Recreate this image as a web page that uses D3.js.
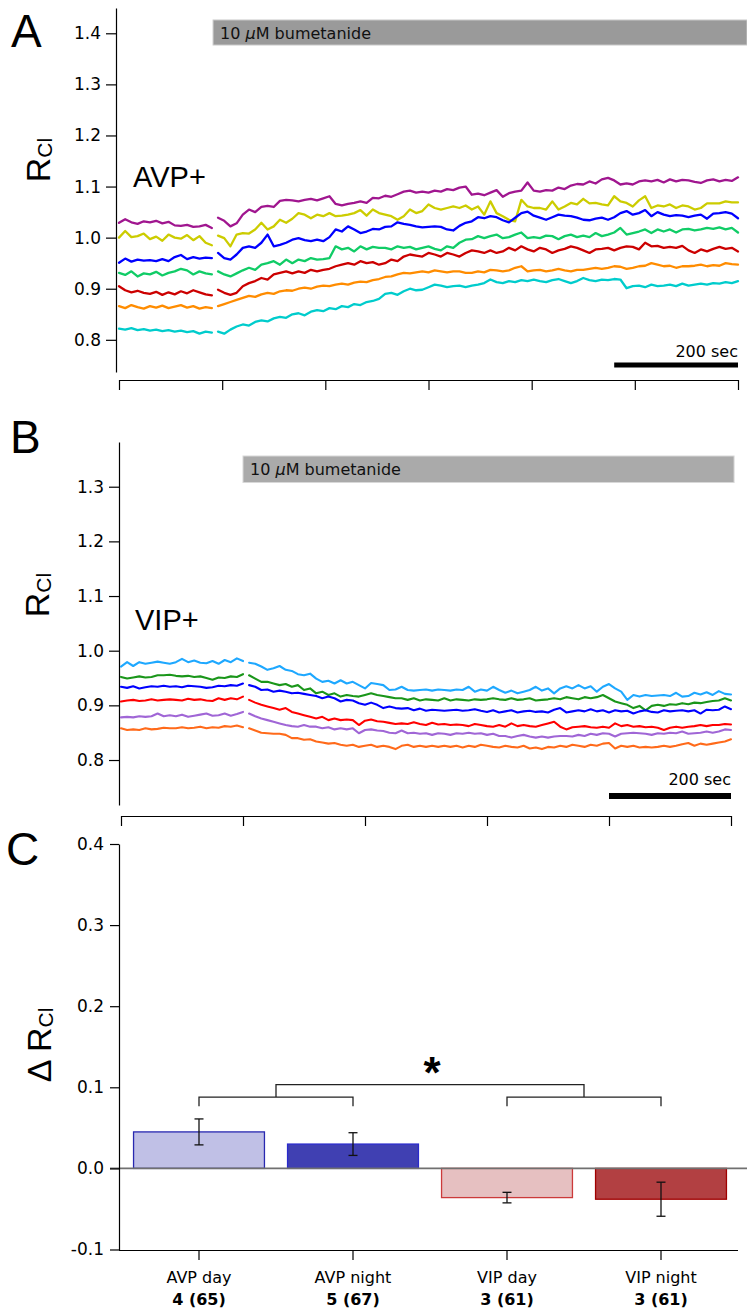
<!DOCTYPE html>
<html><head><meta charset="utf-8">
<script src="https://cdn.jsdelivr.net/npm/d3@7"></script>
<style>body{margin:0;background:#fff}svg{display:block}</style>
</head><body>
<svg id="chart" width="747" height="1311"></svg>
<script>
// ---------------- DATA ----------------
// Panel A (AVP+) time grid (s)
const timesApre = d3.range(0, 151, 10);
const timesApost = d3.range(160, 1001, 10);
const xTicksA = [0, 166.7, 333.3, 500, 666.7, 833.3, 1000];
const yTicksA = [0.8, 0.9, 1.0, 1.1, 1.2, 1.3, 1.4];
const bumetanideStartA = 152;

const purpleApre = [1.029,1.036,1.030,1.027,1.032,1.030,1.033,1.028,1.031,1.024,1.023,1.025,1.021,1.022,1.025,1.019];
const purpleApost = [1.039,1.033,1.022,1.028,1.045,1.055,1.050,1.060,1.062,1.060,1.072,1.074,1.073,1.071,1.074,1.076,1.073,1.077,1.081,1.066,1.063,1.066,1.068,1.071,1.068,1.078,1.077,1.082,1.080,1.085,1.090,1.092,1.088,1.090,1.088,1.092,1.090,1.095,1.093,1.098,1.100,1.084,1.086,1.083,1.088,1.093,1.080,1.087,1.090,1.092,1.108,1.092,1.090,1.093,1.092,1.098,1.095,1.102,1.105,1.104,1.110,1.106,1.114,1.117,1.112,1.104,1.106,1.104,1.110,1.112,1.110,1.113,1.108,1.114,1.110,1.113,1.112,1.109,1.107,1.112,1.114,1.110,1.113,1.111,1.118];
const yellowApre = [1.000,1.013,1.001,1.003,1.008,0.997,1.002,0.994,1.006,1.000,0.998,1.005,0.995,1.003,0.990,0.985];
const yellowApost = [1.004,0.999,0.983,1.006,1.009,1.008,1.016,1.029,1.016,1.022,1.035,1.029,1.037,1.048,1.045,1.038,1.045,1.042,1.048,1.042,1.043,1.045,1.048,1.054,1.043,1.055,1.048,1.045,1.042,1.035,1.042,1.055,1.048,1.052,1.065,1.058,1.055,1.058,1.061,1.058,1.063,1.055,1.061,1.045,1.071,1.048,1.042,1.035,1.032,1.074,1.061,1.058,1.058,1.055,1.071,1.055,1.061,1.068,1.065,1.076,1.067,1.068,1.065,1.063,1.081,1.071,1.068,1.061,1.073,1.081,1.058,1.063,1.061,1.065,1.058,1.063,1.061,1.055,1.058,1.067,1.067,1.067,1.071,1.069,1.069];
const blueApre = [0.951,0.959,0.953,0.957,0.955,0.956,0.954,0.958,0.954,0.962,0.966,0.958,0.962,0.959,0.961,0.960];
const blueApost = [0.970,0.960,0.957,0.967,0.980,0.983,0.980,0.990,1.006,0.983,0.986,0.990,0.996,0.999,0.995,0.993,0.996,0.993,1.001,1.016,1.012,1.022,1.016,1.009,1.012,1.017,1.016,1.021,1.022,1.030,1.027,1.025,1.022,1.020,1.021,1.022,1.021,1.016,1.014,1.023,1.029,1.032,1.040,1.038,1.042,1.040,1.034,1.030,1.039,1.048,1.051,1.043,1.039,1.035,1.040,1.045,1.043,1.042,1.039,1.035,1.034,1.037,1.039,1.035,1.040,1.048,1.052,1.045,1.048,1.054,1.042,1.050,1.045,1.042,1.044,1.043,1.040,1.043,1.045,1.037,1.047,1.048,1.050,1.047,1.038];
const greenApre = [0.931,0.927,0.934,0.924,0.930,0.928,0.933,0.926,0.931,0.934,0.939,0.936,0.928,0.934,0.930,0.928];
const greenApost = [0.934,0.928,0.924,0.930,0.936,0.941,0.937,0.947,0.950,0.954,0.947,0.957,0.950,0.957,0.954,0.960,0.957,0.958,0.960,0.983,0.977,0.980,0.973,0.983,0.977,0.982,0.980,0.980,0.977,0.983,0.980,0.982,0.977,0.980,0.983,0.978,0.975,0.983,0.980,0.990,0.996,0.997,1.003,0.999,1.003,1.006,0.999,1.001,1.006,1.010,0.999,1.001,0.999,1.004,1.003,0.997,1.003,1.006,1.001,1.004,1.001,1.009,1.003,1.006,1.010,1.019,1.006,1.009,1.012,1.016,1.009,1.016,1.012,1.016,1.010,1.016,1.017,1.014,1.016,1.019,1.017,1.020,1.016,1.019,1.010];
const redApre = [0.905,0.897,0.893,0.896,0.892,0.890,0.894,0.888,0.893,0.889,0.895,0.891,0.897,0.893,0.889,0.887];
const redApost = [0.898,0.892,0.888,0.892,0.905,0.911,0.915,0.921,0.918,0.928,0.931,0.934,0.930,0.934,0.931,0.937,0.934,0.937,0.939,0.944,0.947,0.950,0.947,0.954,0.950,0.952,0.947,0.950,0.957,0.954,0.963,0.967,0.965,0.963,0.970,0.967,0.963,0.970,0.967,0.963,0.970,0.975,0.973,0.970,0.975,0.970,0.973,0.980,0.975,0.983,0.977,0.973,0.980,0.977,0.970,0.975,0.978,0.983,0.980,0.975,0.970,0.977,0.978,0.980,0.975,0.980,0.983,0.982,0.977,0.990,0.983,0.984,0.980,0.982,0.980,0.984,0.975,0.970,0.977,0.973,0.978,0.982,0.978,0.980,0.973];
const orangeApre = [0.866,0.862,0.868,0.864,0.861,0.866,0.863,0.867,0.862,0.865,0.868,0.863,0.866,0.861,0.864,0.862];
const orangeApost = [0.866,0.870,0.874,0.878,0.882,0.886,0.884,0.889,0.892,0.890,0.895,0.897,0.896,0.900,0.902,0.900,0.904,0.906,0.905,0.908,0.910,0.908,0.912,0.914,0.913,0.917,0.919,0.923,0.924,0.928,0.931,0.930,0.932,0.934,0.932,0.936,0.934,0.932,0.934,0.934,0.931,0.931,0.934,0.932,0.937,0.936,0.934,0.936,0.941,0.944,0.934,0.936,0.937,0.934,0.936,0.939,0.936,0.934,0.937,0.937,0.939,0.941,0.939,0.941,0.944,0.943,0.939,0.941,0.944,0.945,0.950,0.947,0.944,0.945,0.941,0.944,0.944,0.945,0.947,0.944,0.946,0.945,0.950,0.948,0.947];
const cyanApre = [0.822,0.820,0.823,0.819,0.821,0.818,0.820,0.817,0.819,0.816,0.818,0.815,0.817,0.812,0.816,0.814];
const cyanApost = [0.816,0.812,0.820,0.826,0.830,0.828,0.835,0.838,0.836,0.842,0.845,0.843,0.850,0.852,0.848,0.855,0.858,0.856,0.862,0.860,0.866,0.864,0.870,0.868,0.874,0.876,0.880,0.890,0.892,0.888,0.895,0.900,0.897,0.898,0.903,0.908,0.906,0.903,0.905,0.906,0.903,0.906,0.908,0.911,0.918,0.913,0.911,0.915,0.913,0.917,0.915,0.918,0.915,0.913,0.917,0.919,0.915,0.911,0.915,0.921,0.917,0.915,0.918,0.917,0.919,0.918,0.901,0.905,0.906,0.903,0.908,0.905,0.906,0.908,0.905,0.910,0.906,0.908,0.910,0.908,0.911,0.910,0.913,0.911,0.915];

// Panel B (VIP+) time grid (s)
const timesBpre = d3.range(0, 201, 10);
const timesBpost = d3.range(210, 1001, 10);
const xTicksB = [0, 200, 400, 600, 800, 1000];
const yTicksB = [0.8, 0.9, 1.0, 1.1, 1.2, 1.3];
const bumetanideStartB = 200;
const bumetanideEndB = 1005;

const skyBpre = [0.971,0.979,0.972,0.979,0.976,0.978,0.980,0.978,0.976,0.979,0.985,0.979,0.982,0.978,0.977,0.981,0.976,0.983,0.979,0.986,0.981];
const skyBpost = [0.978,0.976,0.971,0.965,0.968,0.972,0.965,0.963,0.957,0.955,0.958,0.949,0.943,0.945,0.940,0.946,0.940,0.943,0.937,0.931,0.941,0.939,0.937,0.928,0.929,0.934,0.928,0.927,0.928,0.929,0.927,0.929,0.928,0.927,0.929,0.928,0.934,0.925,0.929,0.927,0.934,0.928,0.923,0.927,0.922,0.925,0.928,0.934,0.927,0.931,0.922,0.931,0.935,0.931,0.937,0.931,0.935,0.925,0.934,0.939,0.931,0.925,0.910,0.919,0.916,0.919,0.917,0.918,0.919,0.917,0.923,0.916,0.917,0.923,0.920,0.924,0.919,0.926,0.921,0.920];
const greenBpre = [0.952,0.949,0.951,0.953,0.951,0.952,0.955,0.955,0.956,0.954,0.953,0.954,0.952,0.953,0.950,0.947,0.951,0.950,0.953,0.952,0.957];
const greenBpost = [0.955,0.949,0.943,0.943,0.940,0.937,0.939,0.934,0.937,0.928,0.931,0.922,0.925,0.919,0.922,0.916,0.919,0.917,0.916,0.919,0.922,0.919,0.917,0.915,0.913,0.913,0.910,0.913,0.909,0.911,0.910,0.909,0.913,0.909,0.911,0.910,0.909,0.911,0.910,0.911,0.913,0.911,0.910,0.913,0.910,0.911,0.913,0.909,0.910,0.911,0.913,0.911,0.915,0.913,0.911,0.915,0.913,0.915,0.919,0.913,0.907,0.904,0.901,0.895,0.899,0.891,0.899,0.901,0.899,0.902,0.901,0.904,0.902,0.905,0.904,0.906,0.908,0.909,0.913,0.909];
const blueBpre = [0.934,0.932,0.935,0.931,0.933,0.935,0.934,0.936,0.934,0.935,0.933,0.936,0.935,0.934,0.932,0.933,0.936,0.935,0.937,0.936,0.940];
const blueBpost = [0.937,0.934,0.928,0.929,0.925,0.927,0.925,0.922,0.923,0.921,0.919,0.917,0.913,0.916,0.913,0.907,0.910,0.909,0.904,0.901,0.905,0.901,0.895,0.898,0.895,0.894,0.895,0.891,0.894,0.890,0.892,0.891,0.890,0.891,0.892,0.890,0.891,0.893,0.890,0.888,0.891,0.887,0.889,0.891,0.887,0.889,0.890,0.888,0.889,0.887,0.892,0.895,0.887,0.889,0.891,0.889,0.893,0.889,0.891,0.887,0.891,0.889,0.890,0.885,0.889,0.891,0.888,0.887,0.891,0.889,0.890,0.891,0.889,0.891,0.885,0.892,0.891,0.892,0.898,0.893];
const redBpre = [0.907,0.909,0.910,0.908,0.909,0.911,0.909,0.910,0.911,0.910,0.909,0.912,0.910,0.911,0.909,0.908,0.913,0.910,0.913,0.911,0.916];
const redBpost = [0.910,0.905,0.901,0.898,0.895,0.892,0.895,0.888,0.885,0.882,0.879,0.876,0.879,0.873,0.876,0.873,0.874,0.873,0.864,0.872,0.874,0.871,0.870,0.868,0.866,0.867,0.866,0.869,0.866,0.864,0.868,0.865,0.866,0.864,0.865,0.864,0.862,0.866,0.864,0.862,0.861,0.864,0.861,0.867,0.862,0.864,0.862,0.861,0.864,0.867,0.870,0.861,0.856,0.860,0.861,0.862,0.860,0.859,0.861,0.859,0.867,0.862,0.864,0.861,0.862,0.860,0.861,0.859,0.855,0.859,0.861,0.859,0.861,0.862,0.864,0.862,0.864,0.864,0.866,0.865];
const violetBpre = [0.878,0.879,0.878,0.880,0.879,0.880,0.885,0.880,0.882,0.880,0.883,0.879,0.881,0.883,0.885,0.881,0.882,0.885,0.881,0.884,0.888];
const violetBpost = [0.885,0.880,0.876,0.873,0.870,0.867,0.864,0.862,0.861,0.864,0.861,0.861,0.858,0.860,0.856,0.858,0.856,0.858,0.849,0.855,0.856,0.854,0.853,0.850,0.849,0.854,0.849,0.850,0.848,0.849,0.846,0.849,0.848,0.846,0.849,0.848,0.850,0.848,0.849,0.846,0.848,0.844,0.844,0.841,0.844,0.846,0.843,0.841,0.843,0.841,0.843,0.844,0.844,0.843,0.846,0.844,0.848,0.846,0.849,0.848,0.843,0.848,0.849,0.850,0.849,0.848,0.846,0.849,0.848,0.850,0.849,0.852,0.848,0.849,0.850,0.852,0.850,0.852,0.856,0.855];
const orangeBpre = [0.858,0.855,0.856,0.855,0.858,0.856,0.857,0.859,0.858,0.858,0.860,0.858,0.859,0.861,0.858,0.860,0.859,0.862,0.861,0.863,0.860];
const orangeBpost = [0.858,0.854,0.850,0.849,0.848,0.848,0.846,0.840,0.840,0.837,0.838,0.834,0.832,0.830,0.831,0.828,0.826,0.828,0.824,0.826,0.828,0.824,0.826,0.824,0.820,0.826,0.828,0.824,0.826,0.824,0.826,0.824,0.826,0.824,0.826,0.823,0.826,0.824,0.828,0.826,0.824,0.823,0.826,0.824,0.823,0.826,0.821,0.823,0.820,0.824,0.823,0.826,0.824,0.828,0.826,0.824,0.828,0.826,0.830,0.831,0.821,0.826,0.824,0.826,0.823,0.824,0.823,0.824,0.826,0.824,0.826,0.829,0.831,0.826,0.830,0.828,0.830,0.832,0.834,0.838];

// Panel C (bar chart)
const categoriesC = ["AVP day", "AVP night", "VIP day", "VIP night"];
const nLabelsC = ["4 (65)", "5 (67)", "3 (61)", "3 (61)"];
const meansC = [0.045, 0.030, -0.036, -0.038];
const semC = [0.016, 0.014, 0.0065, 0.021];
const yTicksC = [-0.1, 0.0, 0.1, 0.2, 0.3, 0.4];
const scaleBarSeconds = 200;

// ---------------- DRAWING ----------------
const svg = d3.select("#chart");
const SANS = "'Liberation Sans', Arial, Helvetica, sans-serif";
const TICK = "'DejaVu Sans', 'Liberation Sans', sans-serif";
const fmt1 = v => d3.format(".1f")(v).replace("\u2212", "-");

function styleAxis(g, fs) {
  g.select(".domain").attr("stroke", "#000").attr("stroke-width", 1.2);
  g.selectAll(".tick line").attr("stroke", "#000").attr("stroke-width", 1.2);
  g.selectAll(".tick text").attr("font-family", TICK).attr("font-size", fs).attr("fill", "#000");
}

function panelLetter(txt, x, y) {
  svg.append("text").attr("x", x).attr("y", y).attr("font-family", SANS)
    .attr("font-size", 46).text(txt);
}

function yLabel(x, y, prefix) {
  const t = svg.append("text").attr("transform", `translate(${x},${y}) rotate(-90)`)
    .attr("text-anchor", "middle").attr("font-family", SANS).attr("font-size", 34);
  t.append("tspan").text(prefix + "R");
  t.append("tspan").attr("font-size", 21).attr("dy", 2).text("Cl");
}

function bumetanide(x0, x1, y0, h, fill, stroke) {
  svg.append("rect").attr("x", x0).attr("y", y0).attr("width", x1 - x0).attr("height", h)
    .attr("fill", fill).attr("stroke", stroke).attr("stroke-width", 1);
  const t = svg.append("text").attr("x", x0 + 7).attr("y", y0 + h / 2 + 6)
    .attr("font-family", TICK).attr("font-size", 16).attr("fill", "#111");
  t.append("tspan").text("10 ");
  t.append("tspan").attr("font-style", "italic").text("\u03bc");
  t.append("tspan").text("M bumetanide");
}

function traces(x, y, tPre, tPost, series, width) {
  const line = d3.line().defined(d => d != null).x(d => x(d.t)).y(d => y(d.v));
  series.forEach(s => {
    const pts = s.pre.map((v, i) => ({ t: tPre[i], v }))
      .concat([null])
      .concat(s.post.map((v, i) => ({ t: tPost[i], v })));
    svg.append("path").datum(pts).attr("d", line).attr("fill", "none")
      .attr("stroke", s.color).attr("stroke-width", width)
      .attr("stroke-linejoin", "round").attr("stroke-linecap", "round");
  });
}

function scaleBar(x, xEnd, yBar, thick, yText) {
  svg.append("rect").attr("x", x(xEnd - scaleBarSeconds)).attr("y", yBar - thick / 2)
    .attr("width", x(xEnd) - x(xEnd - scaleBarSeconds)).attr("height", thick).attr("fill", "#000");
  svg.append("text").attr("x", x(xEnd)).attr("y", yText).attr("text-anchor", "end")
    .attr("font-family", TICK).attr("font-size", 16).text(scaleBarSeconds + " sec");
}

// ----- Panel A -----
const xA = d3.scaleLinear().domain([0, 1000]).range([119, 738]);
const yA = d3.scaleLinear().domain([0.737, 1.4495]).range([372, 8]);
panelLetter("A", 11, 47);
bumetanide(xA(bumetanideStartA), 747, 20, 25, "#9a9a9a", "#c8c8c8");
svg.append("g").attr("transform", "translate(116,0)")
  .call(d3.axisLeft(yA).tickValues(yTicksA).tickFormat(fmt1).tickSize(10).tickSizeOuter(0).tickPadding(5))
  .call(g => styleAxis(g, 17));
svg.append("g").attr("transform", "translate(0,380)")
  .call(d3.axisBottom(xA).tickValues(xTicksA).tickFormat("").tickSize(10).tickSizeOuter(0))
  .call(g => styleAxis(g, 16));
yLabel(50, 160, "");
svg.append("text").attr("x", 133).attr("y", 187).attr("font-family", SANS).attr("font-size", 29).text("AVP+");
traces(xA, yA, timesApre, timesApost, [
  { color: "#a0168f", pre: purpleApre, post: purpleApost },
  { color: "#cccc00", pre: yellowApre, post: yellowApost },
  { color: "#0000ff", pre: blueApre, post: blueApost },
  { color: "#10cc66", pre: greenApre, post: greenApost },
  { color: "#cc0000", pre: redApre, post: redApost },
  { color: "#ff8c00", pre: orangeApre, post: orangeApost },
  { color: "#00cccc", pre: cyanApre, post: cyanApost }
], 2.3);
scaleBar(xA, 1000, 365, 5, 357);

// ----- Panel B -----
const xB = d3.scaleLinear().domain([0, 1000]).range([121, 731]);
const yB = d3.scaleLinear().domain([0.7177, 1.3818]).range([805, 442]);
panelLetter("B", 10, 453);
bumetanide(xB(bumetanideStartB), xB(bumetanideEndB), 456, 26.5, "#aaaaaa", "#d8d8d8");
svg.append("g").attr("transform", "translate(119,0)")
  .call(d3.axisLeft(yB).tickValues(yTicksB).tickFormat(fmt1).tickSize(10).tickSizeOuter(0).tickPadding(5))
  .call(g => styleAxis(g, 17));
svg.append("g").attr("transform", "translate(0,816)")
  .call(d3.axisBottom(xB).tickValues(xTicksB).tickFormat("").tickSize(10).tickSizeOuter(0))
  .call(g => styleAxis(g, 16));
yLabel(49, 595, "");
svg.append("text").attr("x", 135).attr("y", 630).attr("font-family", SANS).attr("font-size", 29).text("VIP+");
traces(xB, yB, timesBpre, timesBpost, [
  { color: "#1ea8ff", pre: skyBpre, post: skyBpost },
  { color: "#1a961a", pre: greenBpre, post: greenBpost },
  { color: "#0000ff", pre: blueBpre, post: blueBpost },
  { color: "#ff0000", pre: redBpre, post: redBpost },
  { color: "#a066d6", pre: violetBpre, post: violetBpost },
  { color: "#ff6a1a", pre: orangeBpre, post: orangeBpost }
], 2.1);
scaleBar(xB, 1000, 796, 6, 785);

// ----- Panel C -----
const xC = d3.scaleBand().domain(categoriesC).range([122, 738]).paddingInner(0.15).paddingOuter(0.075);
const yC = d3.scaleLinear().domain([-0.1, 0.4]).range([1249.5, 844]);
panelLetter("C", 6, 865);
const fills = ["#c0c0e6", "#4040b2", "#e6c0c1", "#b24042"];
const strokes = ["#2828b0", "#2a2acc", "#cc3a3a", "#a00000"];
const barData = categoriesC.map((c, i) => ({ c, m: meansC[i], e: semC[i], n: nLabelsC[i], fill: fills[i], stroke: strokes[i] }));
svg.append("g").selectAll("rect").data(barData).join("rect")
  .attr("x", d => xC(d.c)).attr("width", xC.bandwidth())
  .attr("y", d => yC(Math.max(0, d.m))).attr("height", d => Math.abs(yC(d.m) - yC(0)))
  .attr("fill", d => d.fill).attr("stroke", d => d.stroke).attr("stroke-width", 1.3);
// zero line
svg.append("line").attr("x1", 110).attr("x2", 747).attr("y1", yC(0)).attr("y2", yC(0))
  .attr("stroke", "#707070").attr("stroke-width", 1.6);
// error bars
const eb = svg.append("g").attr("stroke", "#111").attr("stroke-width", 1.3);
barData.forEach(d => {
  const cx = xC(d.c) + xC.bandwidth() / 2;
  eb.append("line").attr("x1", cx).attr("x2", cx).attr("y1", yC(d.m + d.e)).attr("y2", yC(d.m - d.e));
  [d.m + d.e, d.m - d.e].forEach(v => eb.append("line").attr("x1", cx - 4.5).attr("x2", cx + 4.5).attr("y1", yC(v)).attr("y2", yC(v)));
});
svg.append("g").attr("transform", "translate(119,0)")
  .call(d3.axisLeft(yC).tickValues(yTicksC).tickFormat(fmt1).tickSize(9).tickSizeOuter(0).tickPadding(6))
  .call(g => styleAxis(g, 17));
const xAxC = svg.append("g").attr("transform", "translate(0,1250)")
  .call(d3.axisBottom(xC).tickSize(10).tickSizeOuter(0).tickFormat(""))
  .call(g => styleAxis(g, 16));
xAxC.select(".domain").remove();
svg.append("line").attr("x1", 119).attr("x2", 738).attr("y1", 1250.5).attr("y2", 1250.5).attr("stroke", "#000").attr("stroke-width", 1.2);
barData.forEach(d => {
  const cx = xC(d.c) + xC.bandwidth() / 2;
  svg.append("text").attr("x", cx).attr("y", 1283).attr("text-anchor", "middle")
    .attr("font-family", TICK).attr("font-size", 16).text(d.c);
  svg.append("text").attr("x", cx).attr("y", 1305).attr("text-anchor", "middle")
    .attr("font-family", TICK).attr("font-weight", "bold").attr("font-size", 16).text(d.n);
});
// significance brackets
const cxs = categoriesC.map(c => xC(c) + xC.bandwidth() / 2);
const brLow = 0.088, brLeg = 0.0765, brTop = 0.1033;
const br = svg.append("g").attr("fill", "none").attr("stroke", "#222").attr("stroke-width", 1.3);
[[cxs[0], cxs[1]], [cxs[2], cxs[3]]].forEach(([a, b]) => {
  br.append("path").attr("d", `M${a},${yC(brLeg)}V${yC(brLow)}H${b}V${yC(brLeg)}`);
});
const mL = (cxs[0] + cxs[1]) / 2, mR = (cxs[2] + cxs[3]) / 2;
br.append("path").attr("d", `M${mL},${yC(brLow)}V${yC(brTop)}H${mR}V${yC(brLow)}`);
svg.append("text").attr("x", (mL + mR) / 2 + 2).attr("y", 1088).attr("text-anchor", "middle")
  .attr("font-family", SANS).attr("font-weight", "bold").attr("font-size", 44).text("*");
yLabel(51, 1045, "\u0394 ");
</script>
</body></html>
